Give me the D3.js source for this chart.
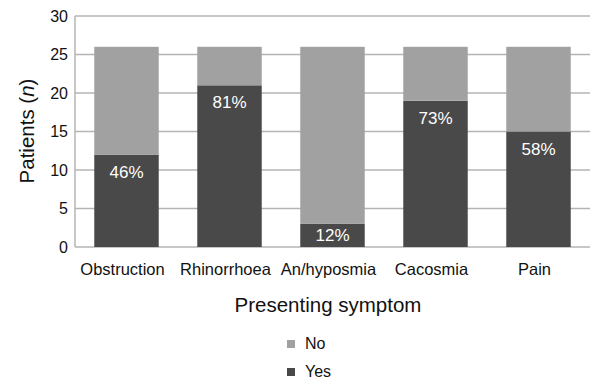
<!DOCTYPE html>
<html>
<head>
<meta charset="utf-8">
<script src="https://cdn.jsdelivr.net/npm/d3@7"></script>
<style>
  body { margin: 0; background: #fff; }
  text { font-family: "Liberation Sans", Arial, sans-serif; fill: #111; }
</style>
</head>
<body>
<div id="chart"></div>
<script>
// data
var symptoms = ["Obstruction", "Rhinorrhoea", "An/hyposmia", "Cacosmia", "Pain"];
var yesCounts = [12, 21, 3, 19, 15];
var noCounts = [14, 5, 23, 7, 11];
var pctLabels = ["46%", "81%", "12%", "73%", "58%"];
var yTicks = [0, 5, 10, 15, 20, 25, 30];
var seriesNames = ["No", "Yes"];
var seriesColors = { "No": "#a1a1a1", "Yes": "#494949" };

var W = 591, H = 380;
var margin = { left: 75, right: 1, top: 16, bottom: 133 };
var width = W - margin.left - margin.right,
    height = H - margin.top - margin.bottom;

var svg = d3.select("#chart").append("svg")
    .attr("width", W)
    .attr("height", H);

var g = svg.append("g")
    .attr("transform", "translate(" + margin.left + "," + margin.top + ")");

var x = d3.scaleBand()
    .domain(symptoms)
    .range([0, width])
    .paddingInner(0.374)
    .paddingOuter(0.187);

var y = d3.scaleLinear()
    .domain([0, 30])
    .range([height, 0]);

// gridlines
g.selectAll(".grid")
    .data(yTicks)
    .enter().append("line")
    .attr("class", "grid")
    .attr("x1", 0)
    .attr("x2", width)
    .attr("y1", function(d) { return y(d); })
    .attr("y2", function(d) { return y(d); })
    .attr("stroke", "#b4b4b4")
    .attr("stroke-width", 1.5);

// left axis line
g.append("line")
    .attr("x1", 0).attr("x2", 0)
    .attr("y1", y(30)).attr("y2", y(0))
    .attr("stroke", "#b4b4b4")
    .attr("stroke-width", 1.5);

// y tick labels
g.selectAll(".ytick")
    .data(yTicks)
    .enter().append("text")
    .attr("class", "ytick")
    .attr("x", -7)
    .attr("y", function(d) { return y(d) + 5.5; })
    .attr("text-anchor", "end")
    .attr("font-size", "16px")
    .text(function(d) { return d; });

// stacked bars
var rows = symptoms.map(function(s, i) {
    return { symptom: s, Yes: yesCounts[i], No: noCounts[i], pct: pctLabels[i] };
});
var stack = d3.stack().keys(["Yes", "No"]);
var layers = stack(rows);

g.selectAll(".layer")
    .data(layers)
    .enter().append("g")
    .attr("class", "layer")
    .attr("fill", function(d) { return seriesColors[d.key]; })
    .selectAll("rect")
    .data(function(d) { return d; })
    .enter().append("rect")
    .attr("x", function(d) { return x(d.data.symptom); })
    .attr("width", x.bandwidth())
    .attr("y", function(d) { return y(d[1]); })
    .attr("height", function(d) { return y(d[0]) - y(d[1]); });

// percentage labels
g.selectAll(".pct")
    .data(rows)
    .enter().append("text")
    .attr("class", "pct")
    .attr("x", function(d) { return x(d.symptom) + x.bandwidth() / 2; })
    .attr("y", function(d) { return Math.min(y(d.Yes) + 23, y(0) - 6.5); })
    .attr("text-anchor", "middle")
    .attr("font-size", "17px")
    .style("fill", "#ffffff")
    .text(function(d) { return d.pct; });

// x labels
g.selectAll(".xlab")
    .data(symptoms)
    .enter().append("text")
    .attr("class", "xlab")
    .attr("x", function(d) { return x(d) + x.bandwidth() / 2 - 4; })
    .attr("y", height + 28)
    .attr("text-anchor", "middle")
    .attr("font-size", "16.5px")
    .text(function(d) { return d; });

// axis titles
svg.append("text")
    .attr("x", 328)
    .attr("y", 312)
    .attr("text-anchor", "middle")
    .attr("font-size", "20.5px")
    .text("Presenting symptom");

var yTitle = svg.append("text")
    .attr("transform", "translate(34,131) rotate(-90)")
    .attr("text-anchor", "middle")
    .attr("font-size", "20.5px");
yTitle.append("tspan").text("Patients (");
yTitle.append("tspan").attr("font-style", "italic").text("n");
yTitle.append("tspan").text(")");

// legend
var legend = svg.append("g")
    .attr("transform", "translate(287,340)");

seriesNames.forEach(function(name, i) {
    var row = legend.append("g")
        .attr("transform", "translate(0," + (i * 28) + ")");
    row.append("rect")
        .attr("width", 8)
        .attr("height", 8)
        .attr("fill", seriesColors[name]);
    row.append("text")
        .attr("x", 18)
        .attr("y", 9)
        .attr("font-size", "16px")
        .text(name);
});
</script>
</body>
</html>
